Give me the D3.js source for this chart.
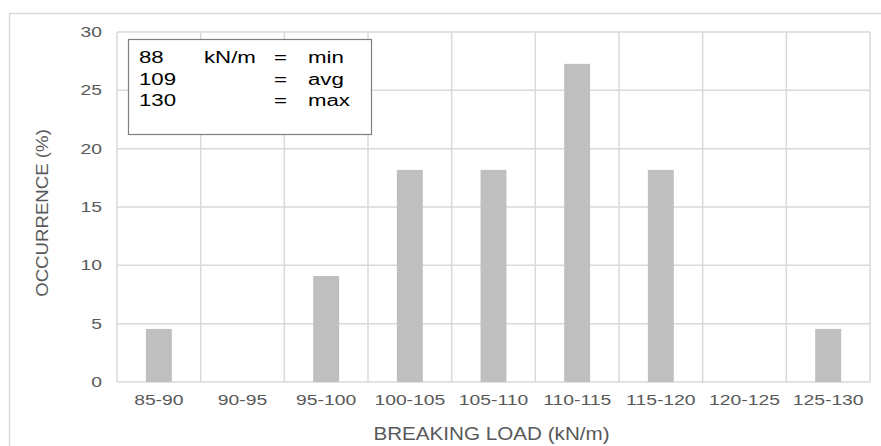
<!DOCTYPE html>
<html>
<head>
<meta charset="utf-8">
<script src="https://cdn.jsdelivr.net/npm/d3@7"></script>
<style>
  html, body { margin: 0; padding: 0; background: #fff; }
  svg { display: block; font-family: "Liberation Sans", Arial, sans-serif; }
</style>
</head>
<body>
<svg id="chart" width="881" height="446"></svg>
<script>
// data
const categories = ["85-90", "90-95", "95-100", "100-105", "105-110", "110-115", "115-120", "120-125", "125-130"];
const occurrence = [4.55, 0, 9.09, 18.18, 18.18, 27.27, 18.18, 0, 4.55];
const yTicks = [0, 5, 10, 15, 20, 25, 30];
const statValues = ["88", "109", "130"];
const statUnits = ["kN/m", "", ""];
const statNames = ["min", "avg", "max"];

const margin = { left: 117, top: 32, right: 11, bottom: 64 };
const width = 881, height = 446;
const plotW = width - margin.left - margin.right;
const plotH = height - margin.top - margin.bottom;

const svg = d3.select("#chart");

// outer frame
svg.append("rect")
    .attr("x", 9.5).attr("y", 13.5)
    .attr("width", 880).attr("height", 450)
    .attr("fill", "none")
    .attr("stroke", "#d9d9d9")
    .attr("stroke-width", 1.5);

const g = svg.append("g").attr("transform", `translate(${margin.left},${margin.top})`);

const pad = 0.69;
const x = d3.scaleBand().domain(categories).range([0, plotW]).paddingInner(pad).paddingOuter(pad / 2);
const y = d3.scaleLinear().domain([0, 30]).range([plotH, 0]);
const step = x.step();

// gridlines ----------
g.selectAll(".hgrid")
    .data(yTicks)
    .enter().append("line")
    .attr("x1", 0).attr("x2", plotW)
    .attr("y1", d => y(d)).attr("y2", d => y(d))
    .attr("stroke", "#d9d9d9").attr("stroke-width", 1.5);

g.selectAll(".vgrid")
    .data(d3.range(categories.length + 1))
    .enter().append("line")
    .attr("x1", i => i * step).attr("x2", i => i * step)
    .attr("y1", 0).attr("y2", plotH)
    .attr("stroke", "#d9d9d9").attr("stroke-width", 1.5);

// bars ----------
g.selectAll(".bar")
    .data(categories)
    .enter().append("rect")
    .attr("x", c => x(c))
    .attr("y", (c, i) => y(occurrence[i]))
    .attr("width", x.bandwidth())
    .attr("height", (c, i) => plotH - y(occurrence[i]))
    .attr("fill", "#bfbfbf");

// tick labels ----------
const tickStretch = 1.38;
g.selectAll(".ylab")
    .data(yTicks)
    .enter().append("text")
    .attr("transform", d => `translate(-15,${y(d) + 5}) scale(${tickStretch},1)`)
    .attr("text-anchor", "end")
    .attr("font-size", 14)
    .attr("fill", "#595959")
    .text(d => d);

g.selectAll(".xlab")
    .data(categories)
    .enter().append("text")
    .attr("transform", c => `translate(${x(c) + x.bandwidth() / 2},${plotH + 23}) scale(${tickStretch},1)`)
    .attr("text-anchor", "middle")
    .attr("font-size", 14)
    .attr("fill", "#595959")
    .text(c => c);

// axis titles ----------
g.append("text")
    .attr("transform", `translate(${plotW / 2 - 2},${plotH + 58}) scale(1.18,1)`)
    .attr("text-anchor", "middle")
    .attr("font-size", 17.5)
    .attr("fill", "#595959")
    .text("BREAKING LOAD (kN/m)");

svg.append("text")
    .attr("transform", `translate(48,213) rotate(-90) scale(1.13,1)`)
    .attr("text-anchor", "middle")
    .attr("font-size", 16.5)
    .attr("fill", "#595959")
    .text("OCCURRENCE (%)");

// stats box ----------
const box = svg.append("g").attr("transform", "translate(128,39)");
box.append("rect")
    .attr("x", 0.5).attr("y", 0.5)
    .attr("width", 243).attr("height", 95)
    .attr("fill", "#fff")
    .attr("stroke", "#7f7f7f")
    .attr("stroke-width", 1.2);

const rowY = d3.scalePoint().domain(d3.range(3)).range([24, 67]);
const legStretch = 1.39;
const cols = [
    { x: 11, vals: statValues },
    { x: 76, vals: statUnits },
    { x: 146, vals: ["=", "=", "="] },
    { x: 180, vals: statNames }
];
cols.forEach(col => {
    box.selectAll(null)
        .data(col.vals)
        .enter().append("text")
        .attr("transform", (d, i) => `translate(${col.x},${rowY(i)}) scale(${legStretch},1)`)
        .attr("font-size", 16)
        .attr("fill", "#000")
        .text(d => d);
});
</script>
</body>
</html>
